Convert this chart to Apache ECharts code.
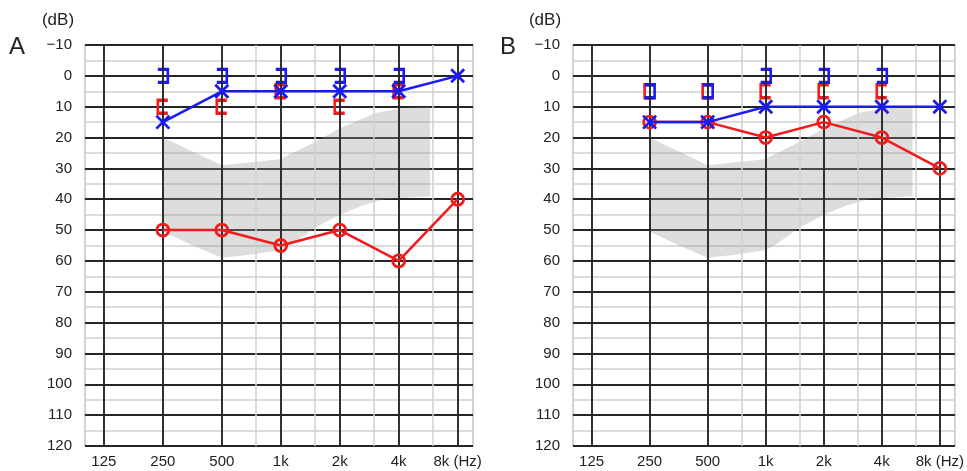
<!DOCTYPE html>
<html><head><meta charset="utf-8">
<script src="https://cdn.jsdelivr.net/npm/echarts@6/dist/echarts.min.js"></script>
<style>html,body{margin:0;padding:0;background:#fff}#c{width:967px;height:471px}</style>
</head><body><div id="c"></div>
<script>
// ---- axis categories / ticks ----
const freqLabels = ['125', '250', '500', '1k', '2k', '4k', '8k (Hz)'];
const labelFreqs = [125, 250, 500, 1000, 2000, 4000, 8000];
const minorFreqs = [750, 1500, 3000, 6000];
const airFreqs = [250, 500, 1000, 2000, 4000, 8000];
const boneFreqs = [250, 500, 1000, 2000, 4000];

// ---- Panel A (dB HL) ----
const aLeftAir = [15, 5, 5, 5, 5, 0];        // blue X
const aRightAir = [50, 50, 55, 50, 60, 40];   // red O
const aLeftBone = [0, 0, 0, 0, 0];            // blue ]
const aRightBone = [10, 10, 5, 10, 5];        // red [

// ---- Panel B (dB HL) ----
const bLeftAir = [15, 15, 10, 10, 10, 10];
const bRightAir = [15, 15, 20, 15, 20, 30];
const bLeftBone = [5, 5, 0, 0, 0];
const bRightBone = [5, 5, 5, 5, 5];

// speech banana outline: [octaves above 125 Hz, dB]
const speechBanana = [
  [1.0, 20], [2.0, 29], [2.98, 27], [3.6, 21.3], [4.0, 17], [4.62, 12], [5.07, 10.4], [5.53, 10],
  [5.53, 39], [4.75, 40], [4.39, 42], [4.0, 45], [3.6, 49], [3.15, 55], [2.98, 56.5],
  [2.47, 58], [2.0, 59], [1.51, 55], [1.0, 50.5]
];

const BLUE = '#1a1af2';
const RED = '#f21a1a';
const oct = f => Math.log2(f / 125);
const pairs = (fs, vs) => fs.map((f, i) => [oct(f), vs[i]]);

const SYM_X = 'path://M0,0L12,12M12,0L0,12';
const SYM_R = 'path://M0,0H9V13H0';   // ]
const SYM_L = 'path://M9,0H0V13H9';   // [

function panelSeries(g, leftAir, rightAir, leftBone, rightBone) {
  const vLines = labelFreqs.map(f => ({ xAxis: oct(f), lineStyle: { color: '#262626', width: 1.9, type: 'solid' } }))
    .concat(minorFreqs.map(f => ({ xAxis: oct(f), lineStyle: { color: '#d0d0d0', width: 1.5, type: 'solid' } })));
  return [
    {
      type: 'custom', xAxisIndex: g, yAxisIndex: g, silent: true, z: 1,
      data: speechBanana,
      renderItem: (params, api) => {
        if (params.dataIndex !== 0) return null;
        return {
          type: 'polygon',
          shape: { points: speechBanana.map(p => api.coord(p)) },
          style: { fill: 'rgba(150,150,150,0.32)' }
        };
      }
    },
    {
      type: 'line', xAxisIndex: g, yAxisIndex: g, data: [], silent: true, z: 1,
      markLine: { silent: true, symbol: ['none', 'none'], label: { show: false }, animation: false, data: vLines }
    },
    {
      type: 'scatter', xAxisIndex: g, yAxisIndex: g, z: 3,
      symbol: SYM_L, symbolSize: [10, 13],
      itemStyle: { color: 'rgba(0,0,0,0)', borderColor: RED, borderWidth: 3, opacity: 1 },
      data: pairs(boneFreqs, rightBone)
    },
    {
      type: 'scatter', xAxisIndex: g, yAxisIndex: g, z: 4,
      symbol: SYM_R, symbolSize: [10, 13],
      itemStyle: { color: 'rgba(0,0,0,0)', borderColor: BLUE, borderWidth: 3, opacity: 1 },
      data: pairs(boneFreqs, leftBone)
    },
    {
      type: 'line', xAxisIndex: g, yAxisIndex: g, z: 5,
      symbol: 'circle', symbolSize: 12, showAllSymbol: true,
      lineStyle: { color: RED, width: 2.5 },
      itemStyle: { color: 'rgba(0,0,0,0)', borderColor: RED, borderWidth: 2.8 },
      data: pairs(airFreqs, rightAir)
    },
    {
      type: 'line', xAxisIndex: g, yAxisIndex: g, z: 6,
      symbol: SYM_X, symbolSize: 13, showAllSymbol: true,
      lineStyle: { color: BLUE, width: 2.5 },
      itemStyle: { color: 'rgba(0,0,0,0)', borderColor: BLUE, borderWidth: 2.8 },
      data: pairs(airFreqs, leftAir)
    }
  ];
}

const FONT = "'Liberation Sans', Arial, Helvetica, sans-serif";

function xAxisDef(g) {
  return {
    type: 'value', gridIndex: g, min: -0.32, max: 6.26,
    axisLine: { show: false }, axisTick: { show: false }, splitLine: { show: false },
    axisLabel: {
      customValues: labelFreqs.map(oct),
      formatter: v => freqLabels[Math.round(v)],
      color: '#222', fontSize: 15, fontFamily: FONT, margin: 8, hideOverlap: false
    }
  };
}
function yAxisDef(g) {
  return {
    type: 'value', gridIndex: g, inverse: true, min: -10, max: 120, interval: 10,
    axisLine: { show: false }, axisTick: { show: false },
    axisLabel: {
      formatter: v => (v < 0 ? '\u2212' + (-v) : String(v)),
      color: '#222', fontSize: 15, fontFamily: FONT, margin: 13
    },
    splitLine: { show: true, lineStyle: { color: '#262626', width: 1.9 } },
    minorTick: { show: false, splitNumber: 2 },
    minorSplitLine: { show: true, lineStyle: { color: '#d0d0d0', width: 1.5 } }
  };
}

const chart = echarts.init(document.getElementById('c'), null, { renderer: 'canvas' });
chart.setOption({
  animation: false,
  backgroundColor: '#ffffff',
  grid: [
    { left: 85, top: 45, width: 388, height: 401, show: true, borderColor: '#c4c4c4', borderWidth: 1.5, backgroundColor: '#fff' },
    { left: 573, top: 45, width: 386, height: 401, show: true, borderColor: '#c4c4c4', borderWidth: 1.5, backgroundColor: '#fff' }
  ],
  xAxis: [xAxisDef(0), xAxisDef(1)],
  yAxis: [yAxisDef(0), yAxisDef(1)],
  series: panelSeries(0, aLeftAir, aRightAir, aLeftBone, aRightBone)
    .concat(panelSeries(1, bLeftAir, bRightAir, bLeftBone, bRightBone)),
  graphic: [
    { type: 'text', x: 58, y: 20, style: { text: '(dB)', font: '17px ' + FONT, fill: '#222', textAlign: 'center', textVerticalAlign: 'middle' } },
    { type: 'text', x: 17, y: 47, style: { text: 'A', font: '24px ' + FONT, fill: '#222', textAlign: 'center', textVerticalAlign: 'middle' } },
    { type: 'text', x: 545, y: 20, style: { text: '(dB)', font: '17px ' + FONT, fill: '#222', textAlign: 'center', textVerticalAlign: 'middle' } },
    { type: 'text', x: 508, y: 47, style: { text: 'B', font: '24px ' + FONT, fill: '#222', textAlign: 'center', textVerticalAlign: 'middle' } }
  ]
});
</script>
</body></html>
